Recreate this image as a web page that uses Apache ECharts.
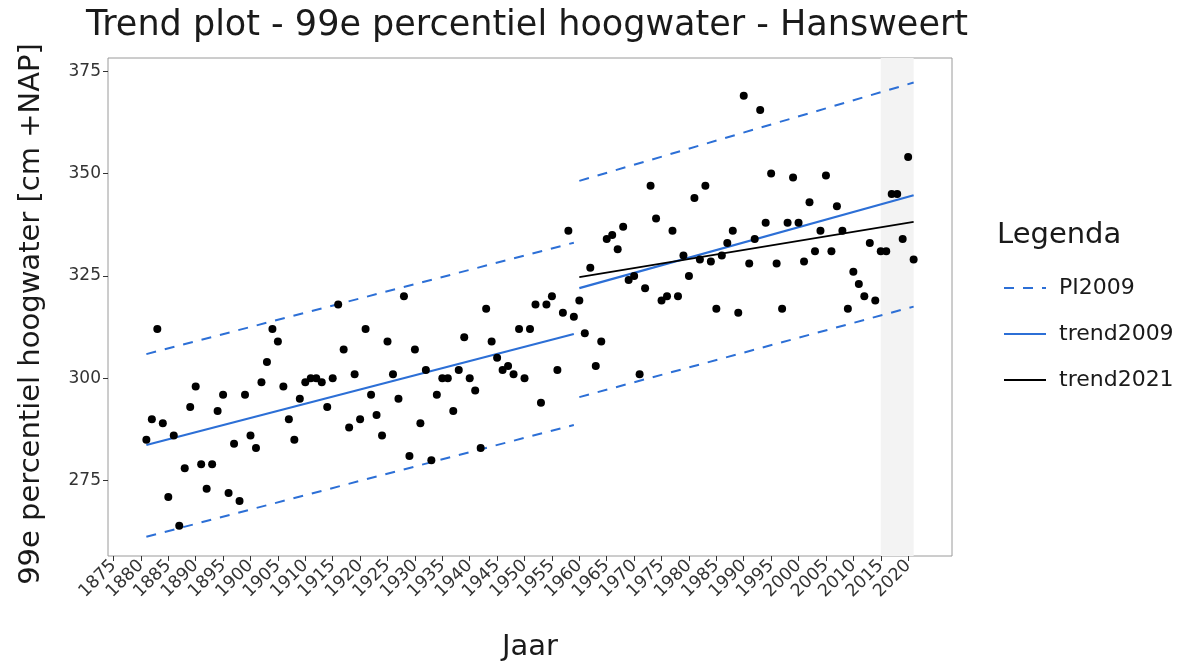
<!DOCTYPE html>
<html>
<head>
<meta charset="utf-8">
<script src="https://cdn.jsdelivr.net/npm/echarts@6/dist/echarts.min.js"></script>
<style>
html,body{margin:0;padding:0;background:#fff;}
#chart{width:1185px;height:664px;}
</style>
</head>
<body>
<div id="chart"></div>
<script>
// ---- data ----
var firstYear = 1881;
var hw99 = [
 285,290,312,289,271,286,264,278,293,298,
 279,273,279,292,296,272,284,270,296,286,
 283,299,304,312,309,298,290,285,295,299,
 300,300,299,293,300,318,307,288,301,290,
 312,296,291,286,309,301,295,320,281,307,
 289,302,280,296,300,300,292,302,310,300,
 297,283,317,309,305,302,303,301,312,300,
 312,318,294,318,320,302,316,336,315,319,
 311,327,303,309,334,335,331.5,337,324,325,
 301,322,347,339,319,320,336,320,330,325,
 344,329,347,328.5,317,330,333,336,316,369,
 328,334,365.5,338,350,328,317,338,349,338,
 328.5,343,331,336,349.5,331,342,336,317,326,
 323,320,333,319,331,331,345,345,334,354,
 329
];
// trend lines: [year, value] endpoints
var trend2009_a = [[1881, 283.7], [1959, 310.8]];
var trend2009_b = [[1960, 322.0], [2021, 344.7]];
var pi2009_upper_a = [[1881, 305.9], [1959, 333.1]];
var pi2009_lower_a = [[1881, 261.3], [1959, 288.6]];
var pi2009_upper_b = [[1960, 348.2], [2021, 372.2]];
var pi2009_lower_b = [[1960, 295.4], [2021, 317.5]];
var trend2021 = [[1960, 324.7], [2021, 338.2]];
var shadeRange = [2015, 2021];
var xTicks = [];
for (var t = 1875; t <= 2020; t += 5) xTicks.push(t);
var yTicks = [275, 300, 325, 350, 375];

var points = hw99.map(function (v, i) { return [firstYear + i, v]; });

var BLUE = '#2c6fd6';
var FONT = 'DejaVu Sans';

var chart = echarts.init(document.getElementById('chart'), null, {renderer: 'canvas'});

function lineSeries(name, data, color, type, width) {
  return {
    name: name, type: 'line', data: data, symbol: 'none', silent: true,
    lineStyle: {color: color, type: type, width: width},
    itemStyle: {color: color}, z: 3, animation: false
  };
}

var option = {
  animation: false,
  backgroundColor: '#fff',
  grid: {
    left: 108, right: 233, top: 58, bottom: 108,
    show: true, borderColor: '#9a9a9a', borderWidth: 1, backgroundColor: 'transparent'
  },
  legend: {
    orient: 'vertical', left: 998, top: 271,
    itemWidth: 42, itemHeight: 14, itemGap: 22,
    data: [
      {name: 'PI2009'},
      {name: 'trend2009'},
      {name: 'trend2021'}
    ],
    itemStyle: {opacity: 0, borderWidth: 0},
    textStyle: {fontFamily: FONT, fontSize: 22, lineHeight: 24, color: '#1a1a1a', padding: [0, 0, 0, 8]},
    selectedMode: false
  },
  graphic: [
    {type: 'text', x: 86, y: 26,
     style: {text: 'Trend plot - 99e percentiel hoogwater - Hansweert', fontFamily: FONT, fontSize: 35, fill: '#1a1a1a', align: 'left', verticalAlign: 'middle'}},
    {type: 'text', x: 997, y: 235,
     style: {text: 'Legenda', fontFamily: FONT, fontSize: 29, fill: '#1a1a1a', align: 'left', verticalAlign: 'middle'}},
    {type: 'text', x: 530, y: 647,
     style: {text: 'Jaar', fontFamily: FONT, fontSize: 29, fill: '#1a1a1a', align: 'center', verticalAlign: 'middle'}},
    {type: 'text', x: 31, y: 314, rotation: Math.PI / 2,
     style: {text: '99e percentiel hoogwater [cm +NAP]', fontFamily: FONT, fontSize: 29, fill: '#1a1a1a', align: 'center', verticalAlign: 'middle'}}
  ],
  xAxis: {
    type: 'value', min: 1874, max: 2028,
    axisLine: {show: false},
    splitLine: {show: false},
    axisTick: {show: true, customValues: xTicks, length: 5, lineStyle: {color: '#333'}},
    axisLabel: {customValues: xTicks, rotate: 45, fontFamily: FONT, fontSize: 17.5, color: '#333', margin: 7,
      hideOverlap: false,
      formatter: function (v) { return String(v); }}
  },
  yAxis: {
    type: 'value', min: 256.6, max: 378.2,
    axisLine: {show: false},
    splitLine: {show: false},
    axisTick: {show: true, customValues: yTicks, length: 5, lineStyle: {color: '#333'}},
    axisLabel: {customValues: yTicks, fontFamily: FONT, fontSize: 17, color: '#333', margin: 7,
      formatter: function (v) { return String(v); }}
  },
  series: [
    {
      name: 'shade', type: 'scatter', data: [], silent: true, z: 0,
      markArea: {
        silent: true,
        itemStyle: {color: '#f3f3f3'},
        data: [[{xAxis: shadeRange[0]}, {xAxis: shadeRange[1]}]]
      }
    },
    {
      name: 'hw99', type: 'scatter', data: points, symbolSize: 8, silent: true,
      itemStyle: {color: '#000', opacity: 1}, z: 5
    },
    lineSeries('PI2009', pi2009_upper_a, BLUE, [10, 9], 2),
    lineSeries('PI2009', pi2009_lower_a, BLUE, [10, 9], 2),
    lineSeries('PI2009', pi2009_upper_b, BLUE, [10, 9], 2),
    lineSeries('PI2009', pi2009_lower_b, BLUE, [10, 9], 2),
    lineSeries('trend2009', trend2009_a, BLUE, 'solid', 2.2),
    lineSeries('trend2009', trend2009_b, BLUE, 'solid', 2.2),
    lineSeries('trend2021', trend2021, '#000', 'solid', 1.8)
  ]
};
chart.setOption(option);
</script>
</body>
</html>
